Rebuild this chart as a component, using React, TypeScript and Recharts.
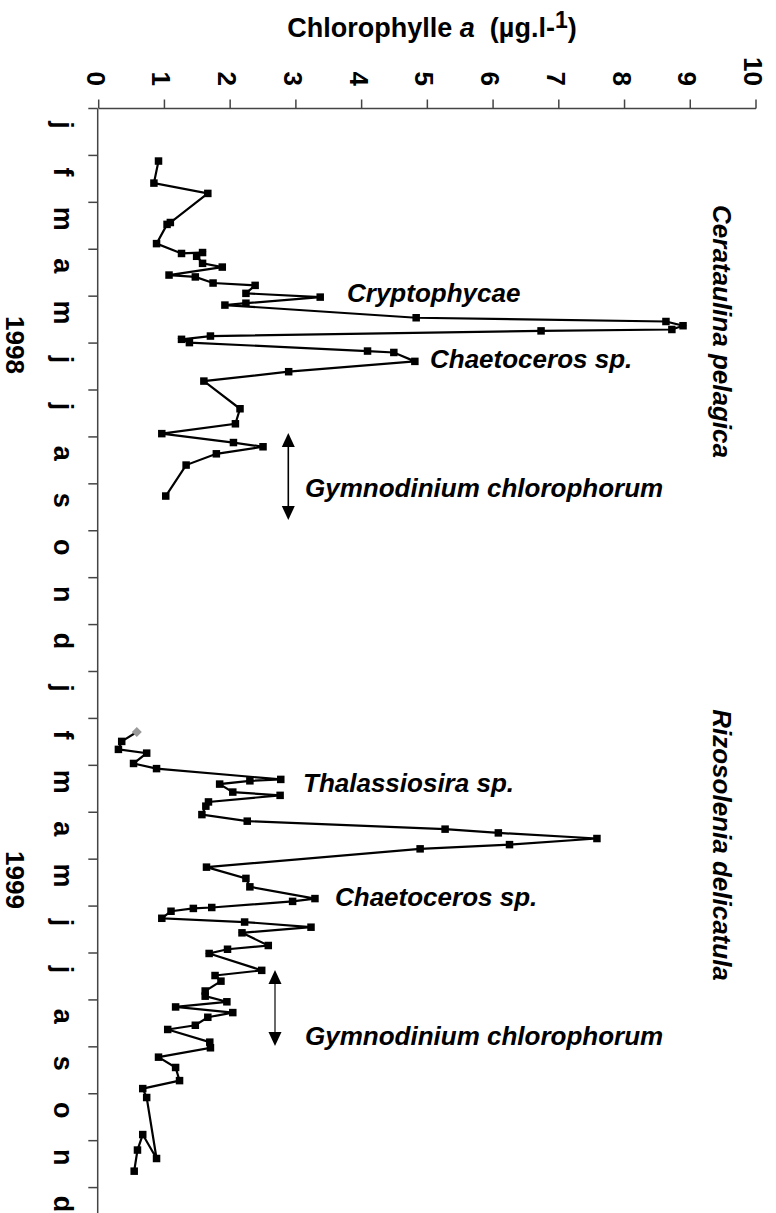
import { Line, LineChart, XAxis, YAxis } from "recharts";

// month letters, repeated for 1998 and 1999
const monthLetters = ["j", "f", "m", "a", "m", "j", "j", "a", "s", "o", "n", "d"];
const monthBounds = Array.from({ length: 25 }, (_, i) => i);
const monthMids = Array.from({ length: 24 }, (_, i) => i + 0.5);
const chlTicks = [0, 1, 2, 3, 4, 5, 6, 7, 8, 9, 10];
const years = ["1998", "1999"];

// time in months since 1 Jan 1998, chlorophyll a in µg/l
const t1998 = [
  1.12, 1.59, 1.81, 2.43, 2.47, 2.88, 3.09, 3.07, 3.15, 3.3, 3.38, 3.55, 3.59, 3.72, 3.77, 3.94, 4.02,
  4.15, 4.19, 4.46, 4.54, 4.63, 4.71, 4.74, 4.85, 4.92, 4.99, 5.17, 5.2, 5.39, 5.61, 5.81, 6.4, 6.72,
  6.93, 7.12, 7.21, 7.36, 7.6, 8.26,
];
const chl1998 = [
  0.91, 0.84, 1.66, 1.09, 1.04, 0.88, 1.26, 1.58, 1.49, 1.58, 1.88, 1.07, 1.47, 1.74, 2.38, 2.24, 3.37,
  2.24, 1.92, 4.83, 8.63, 8.89, 8.72, 6.73, 1.7, 1.26, 1.38, 4.09, 4.49, 4.81, 2.89, 1.6, 2.15, 2.08,
  0.96, 2.05, 2.5, 1.79, 1.33, 1.02,
];

const t1999 = [
  13.29, 13.49, 13.66, 13.74, 13.96, 14.07, 14.3, 14.33, 14.4, 14.57, 14.64, 14.78, 14.87, 15.05, 15.19,
  15.36, 15.44, 15.56, 15.69, 15.78, 16.17, 16.41, 16.59, 16.84, 16.9, 17.03, 17.05, 17.11, 17.26,
  17.34, 17.45, 17.57, 17.84, 17.92, 18.01, 18.37, 18.48, 18.6, 18.81, 18.92, 19.04, 19.15, 19.27,
  19.37, 19.54, 19.63, 19.9, 20.02, 20.22, 20.44, 20.72, 20.89, 21.08, 22.38, 21.87, 22.2, 22.65,
];
const chl1999 = [
  0.58, 0.35, 0.3, 0.73, 0.53, 0.88, 2.77, 2.3, 1.84, 2.04, 2.76, 1.67, 1.63, 1.57, 2.26, 5.27, 6.08,
  7.58, 6.25, 4.89, 1.64, 2.24, 2.3, 3.29, 2.95, 1.72, 1.44, 1.1, 0.96, 2.22, 3.23, 2.18, 2.58, 1.96,
  1.68, 2.48, 1.77, 1.86, 1.62, 1.62, 1.95, 1.17, 2.04, 1.66, 1.47, 1.05, 1.69, 1.7, 0.91, 1.17, 1.23,
  0.67, 0.73, 0.88, 0.67, 0.59, 0.54,
];

const series1998 = t1998.map((t, i) => ({ t, chl: chl1998[i] }));
const series1999 = t1999.map((t, i) => ({ t, chl: chl1999[i] }));

const FONT = "'Liberation Sans', Arial, Helvetica, sans-serif";
const AXIS_GREY = "#444";
const PAGE_W = 776;
const PAGE_H = 1213;
// the chart is drawn lying down, then turned a quarter clockwise
const CHART_W = 1260;
const CHART_H = 776;

// tick mark + label of the chlorophyll axis (x, y sit on the axis line)
function ChlTick({ x, y, payload }: any) {
  return (
    <g>
      <line x1={x - 9} y1={y} x2={x} y2={y} stroke={AXIS_GREY} strokeWidth={1.5} />
      <text x={x - 22.5} y={y} dy={12} textAnchor="end" fontFamily={FONT} fontSize={26} fontWeight={700} fill="#000">
        {payload.value}
      </text>
    </g>
  );
}

// month boundary tick mark
function BoundTick({ x, y }: any) {
  return <line x1={x} y1={y} x2={x} y2={y + 9.4} stroke={AXIS_GREY} strokeWidth={1.5} />;
}

function MonthTick({ x, y, payload }: any) {
  const letter = monthLetters[Math.floor(payload.value) % 12];
  return (
    <text x={x - 7} y={y} dy={44.4} textAnchor="middle" fontFamily={FONT} fontSize={27} fontWeight={700} fill="#000">
      {letter}
    </text>
  );
}

function squareDot(props: any) {
  const { cx, cy, index } = props;
  if (cx == null || cy == null) return <g key={`s${index}`} />;
  return <rect key={`s${index}`} x={cx - 3.75} y={cy - 3.75} width={7.5} height={7.5} fill="#000" />;
}

function dot1999(props: any) {
  const { cx, cy, index } = props;
  if (cx == null || cy == null) return <g key={`d${index}`} />;
  if (index === 0) {
    return (
      <polygon
        key={`d${index}`}
        points={`${cx},${cy - 5} ${cx + 5},${cy} ${cx},${cy + 5} ${cx - 5},${cy}`}
        fill="#9a9a9a"
      />
    );
  }
  return <rect key={`d${index}`} x={cx - 3.75} y={cy - 3.75} width={7.5} height={7.5} fill="#000" />;
}

function Arrow({ x, y1, y2, color }: { x: number; y1: number; y2: number; color: string }) {
  return (
    <g>
      <line x1={x} y1={y1 + 12} x2={x} y2={y2 - 12} stroke={color} strokeWidth={1.6} />
      <polygon points={`${x},${y1} ${x - 6.5},${y1 + 14} ${x + 6.5},${y1 + 14}`} fill="#000" />
      <polygon points={`${x},${y2} ${x - 6.5},${y2 - 14} ${x + 6.5},${y2 - 14}`} fill="#000" />
    </g>
  );
}

const noteStyle = {
  fontFamily: FONT,
  fontSize: 26,
  fontWeight: 700,
  fontStyle: "italic" as const,
  fill: "#000",
};

export default function App() {
  return (
    <div
      style={{
        position: "absolute",
        left: 0,
        top: 0,
        width: PAGE_W,
        height: PAGE_H,
        overflow: "hidden",
        background: "#fff",
      }}
    >
      <div
        style={{
          position: "absolute",
          left: 0,
          top: 0,
          width: CHART_W,
          height: CHART_H,
          transformOrigin: "0 0",
          transform: `translate(${PAGE_W}px, 0) rotate(90deg)`,
        }}
      >
        <LineChart width={CHART_W} height={CHART_H} margin={{ top: 20, right: 25.5, bottom: 96.7, left: 68.5 }}>
          <XAxis
            xAxisId="m"
            type="number"
            dataKey="t"
            domain={[0, 24]}
            ticks={monthBounds}
            interval={0}
            allowDataOverflow
            height={1}
            tickLine={false}
            tickSize={0}
            tickMargin={0}
            tick={<BoundTick />}
            stroke={AXIS_GREY}
            strokeWidth={1.5}
          />
          <XAxis
            xAxisId="lbl"
            type="number"
            dataKey="t"
            domain={[0, 24]}
            ticks={monthMids}
            interval={0}
            allowDataOverflow
            height={1}
            axisLine={false}
            tickLine={false}
            tickSize={0}
            tickMargin={0}
            tick={<MonthTick />}
          />
          <YAxis
            type="number"
            domain={[0, 10]}
            ticks={chlTicks}
            interval={0}
            width={40}
            tickLine={false}
            tickSize={0}
            tickMargin={0}
            tick={<ChlTick />}
            stroke={AXIS_GREY}
            strokeWidth={1.5}
          />
          <Line
            xAxisId="m"
            data={series1998}
            dataKey="chl"
            type="linear"
            stroke="#000"
            strokeWidth={2.2}
            dot={squareDot}
            isAnimationActive={false}
          />
          <Line
            xAxisId="m"
            data={series1999}
            dataKey="chl"
            type="linear"
            stroke="#000"
            strokeWidth={2.2}
            dot={dot1999}
            isAnimationActive={false}
          />
        </LineChart>
      </div>

      <svg
        width={PAGE_W}
        height={PAGE_H}
        style={{ position: "absolute", left: 0, top: 0, pointerEvents: "none" }}
      >
        <text x={432} y={37} textAnchor="middle" fontFamily={FONT} fontSize={27} fontWeight={700} fill="#000">
          Chlorophylle <tspan fontStyle="italic">a</tspan>
          {"\u00a0 (µg.l-"}
          <tspan dy={-9} fontSize={23}>
            1
          </tspan>
          <tspan dy={9}>)</tspan>
        </text>

        <text transform="translate(6,345) rotate(90)" textAnchor="middle" fontFamily={FONT} fontSize={26} fontWeight={700} fill="#000">
          {years[0]}
        </text>
        <text transform="translate(6,880) rotate(90)" textAnchor="middle" fontFamily={FONT} fontSize={26} fontWeight={700} fill="#000">
          {years[1]}
        </text>

        <text transform="translate(713,331.5) rotate(90)" textAnchor="middle" {...noteStyle}>
          Cerataulina pelagica
        </text>
        <text transform="translate(713,845) rotate(90)" textAnchor="middle" {...noteStyle}>
          Rizosolenia delicatula
        </text>

        <text x={347} y={301.7} {...noteStyle}>
          Cryptophycae
        </text>
        <text x={430} y={368} {...noteStyle}>
          Chaetoceros sp.
        </text>
        <text x={305} y={497} {...noteStyle}>
          Gymnodinium chlorophorum
        </text>
        <Arrow x={288.3} y1={433} y2={520} color="#000" />

        <text x={303} y={791.7} {...noteStyle}>
          Thalassiosira sp.
        </text>
        <text x={335} y={906} {...noteStyle}>
          Chaetoceros sp.
        </text>
        <text x={305} y={1045} {...noteStyle}>
          Gymnodinium chlorophorum
        </text>
        <Arrow x={275} y1={970} y2={1046} color="#444" />
      </svg>
    </div>
  );
}
